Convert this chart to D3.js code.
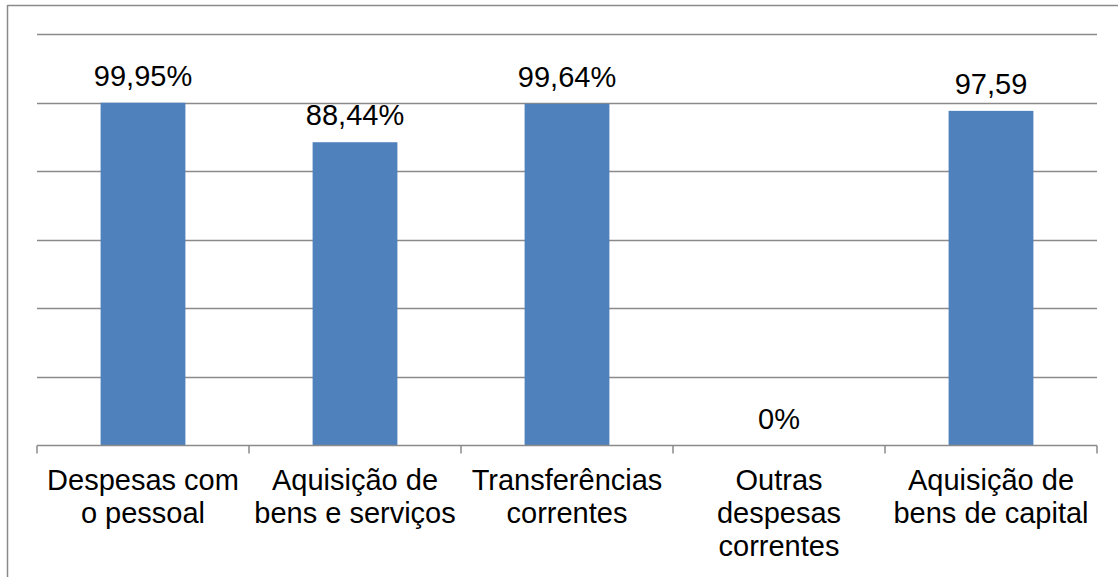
<!DOCTYPE html>
<html>
<head>
<meta charset="utf-8">
<script src="https://cdn.jsdelivr.net/npm/d3@7"></script>
<style>
  html, body { margin: 0; padding: 0; background: #fff; }
  svg { display: block; }
  text { font-family: "Liberation Sans", Arial, sans-serif; fill: #000; }
</style>
</head>
<body>
<svg id="chart" width="1118" height="577"></svg>
<script>
const categories = [
  ["Despesas com", "o pessoal"],
  ["Aquisição de", "bens e serviços"],
  ["Transferências", "correntes"],
  ["Outras", "despesas", "correntes"],
  ["Aquisição de", "bens de capital"]
];
const values = [99.95, 88.44, 99.64, 0, 97.59];
const valueLabels = ["99,95%", "88,44%", "99,64%", "0%", "97,59"];
const yTicks = [0, 20, 40, 60, 80, 100, 120];

(function () {
const svg = d3.select("#chart");
const W = 1118, H = 577;
const mLeft = 37, mRight = 1097, mTop = 34, mBottom = 445.5;
const fontSize = 29;

// outer frame (partial, as in reference)
svg.append("line").attr("x1", 7.5).attr("x2", 7.5).attr("y1", 5).attr("y2", H)
  .attr("stroke", "#8a8a8a").attr("stroke-width", 1.5);
svg.append("line").attr("x1", 7.5).attr("x2", W).attr("y1", 5.5).attr("y2", 5.5)
  .attr("stroke", "#8a8a8a").attr("stroke-width", 1.5);

const x = d3.scaleBand().domain(d3.range(categories.length)).range([mLeft, mRight]).paddingInner(0.6).paddingOuter(0.3);
const xb = d3.scaleBand().domain(d3.range(categories.length)).range([mLeft, mRight]);
const y = d3.scaleLinear().domain([0, 120]).range([mBottom, mTop]);

// gridlines
svg.append("g").selectAll("line").data(yTicks.filter(d => d > 0)).join("line")
  .attr("x1", mLeft).attr("x2", mRight)
  .attr("y1", d => Math.round(y(d)) + 0.5).attr("y2", d => Math.round(y(d)) + 0.5)
  .attr("stroke", "#8a8a8a").attr("stroke-width", 1.5);

// bars
svg.append("g").selectAll("rect").data(values).join("rect")
  .attr("x", (d, i) => x(i))
  .attr("width", x.bandwidth())
  .attr("y", d => y(d))
  .attr("height", d => y(0) - y(d))
  .attr("fill", "#4f81bd");

// x axis baseline + ticks
const axis = svg.append("g");
axis.append("line").attr("x1", mLeft).attr("x2", mRight).attr("y1", mBottom).attr("y2", mBottom)
  .attr("stroke", "#8a8a8a").attr("stroke-width", 1.5);
const boundaries = d3.range(categories.length + 1).map(i => i < categories.length ? xb(i) : xb(i - 1) + xb.bandwidth());
axis.selectAll("line.tick").data(boundaries).join("line").attr("class", "tick")
  .attr("x1", d => d).attr("x2", d => d).attr("y1", mBottom).attr("y2", mBottom + 8)
  .attr("stroke", "#8a8a8a").attr("stroke-width", 1.5);

// category labels
const labels = svg.append("g").selectAll("text").data(categories).join("text")
  .attr("text-anchor", "middle")
  .attr("font-size", fontSize)
  .attr("x", (d, i) => xb(i) + xb.bandwidth() / 2)
  .attr("y", mBottom + 44.5);
labels.selectAll("tspan").data(d => d).join("tspan")
  .attr("x", function() { return d3.select(this.parentNode).attr("x"); })
  .attr("dy", (d, j) => j === 0 ? 0 : 33)
  .text(d => d);

// value labels
svg.append("g").selectAll("text").data(values).join("text")
  .attr("text-anchor", "middle")
  .attr("font-size", fontSize)
  .attr("x", (d, i) => x(i) + x.bandwidth() / 2)
  .attr("y", d => y(d) - 17)
  .text((d, i) => valueLabels[i]);
})();
</script>
</body>
</html>
